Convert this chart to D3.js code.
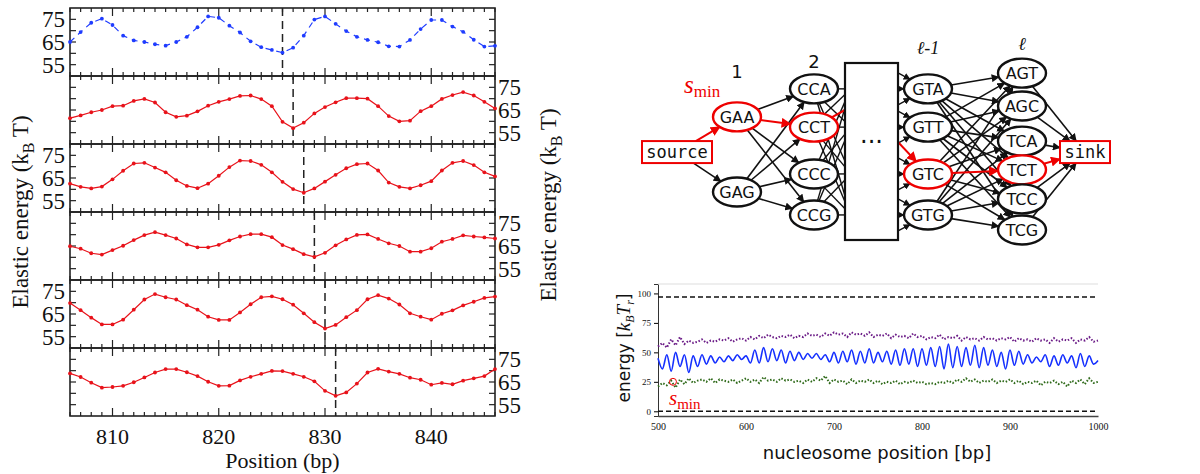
<!DOCTYPE html>
<html><head><meta charset="utf-8">
<script src="https://cdn.jsdelivr.net/npm/d3@7"></script>
<style>body{margin:0;background:#fff}</style>
</head><body>
<svg id="fig" width="1200" height="474"></svg>
<script>
// ---- left panel data: elastic energy per position 806..846
var positions = d3.range(806, 847)
var minPos = [826, 827, 828, 829, 830, 831]
var panel1 = [65,69.4,73.5,75.3,72.5,67.8,65.7,65,64,63.4,65,67.3,71.5,76.3,75.7,72.2,69.2,65.3,62.7,61.5,60.3,62.5,67.8,74.9,76.3,73,69.8,67.3,65.9,64.9,63.1,63,65.9,70.7,74.7,74.7,71.8,69.5,66,63,63.3]
var panel2 = [61.4,62.6,64,65,66.7,66.9,69,69.9,68.3,64,62,62.5,64.4,66.9,68.6,69.8,71.2,71.4,69.8,66.7,59.8,57,59.4,63.5,66.3,68.4,70.2,70.2,70,66.7,62.3,60,60.3,64.5,66.7,69.9,71.6,72.9,71.4,68.6,65.7]
var panel3 = [62.5,61.1,60.4,61.2,64.4,68.2,71.4,71.7,69.6,67.5,64,61.5,60.5,62.5,66,69.8,72.7,72.5,70.8,67.5,63.3,60.1,58.5,60.4,63.4,66.4,69.3,71.1,71.4,68.3,63,61.1,60.4,61.8,63.6,68.3,71.7,72.5,70.7,67.5,65.7]
var panel4 = [64.9,63.8,61.8,61.2,63.2,65.1,67.6,69.8,71.1,69.8,68.3,65.7,64.4,64.4,65.5,67.5,69.2,70.2,70.2,68.9,65.4,63.6,61.4,60.2,62,65.3,67.9,69.9,70.1,68.1,66.2,65,62.5,62.5,64,66.9,68.1,69.7,69.2,68.8,68.3]
var panel5 = [69.8,66.7,63.4,60.4,60.4,62.5,66.9,71.4,73.8,72.4,71.4,68.9,66.9,63.8,62.4,62.4,65.7,69.3,72.4,72.8,71.5,69.1,65.3,61.4,58.6,60.2,63.6,66.7,71.5,73.3,71.8,69.2,65.3,63.8,62.5,65.1,66.6,68.8,70.4,72.1,72.7]
var panel6 = [68.8,67.2,64.7,62.5,62.8,63.3,64.9,67,69.2,70.7,70.7,69.3,67.6,65.1,63.3,63.4,65.7,67.3,68.6,69.9,69.8,68.6,67.3,65.3,61.1,58.9,60.4,64.3,69.2,70.8,69.6,68.6,66.9,66,63.8,64.6,64,65.6,66.6,67.6,70.7]
var panels = [panel1, panel2, panel3, panel4, panel5, panel6]
var energyTicks = [55, 65, 75]
var posTicks = [810, 820, 830, 840]

// ---- bottom right data: energies along nucleosome position 500..1000 (step 5)
var nucPos = d3.range(500, 1001, 5)
var eMean = [45,36,48,34,50,38,48,33,47,38,48,40,47,41,46,42,47,43,48,44,47,41,52,41,54,42,53,43,52,41,51,43,50,44,49,45,49,44,48,42,50,41,51,42,52,40,51,41,53,41,50,42,51,40,52,39,53,40,53,38,53,39,54,38,55,36,57,37,55,38,54,39,56,37,54,39,52,38,50,36,52,39,51,40,48,41,46,42,48,38,47,39,48,41,47,37,49,38,47,40,43]
var eMax = [55,58,54,61,56,63,57,60,58,59,61,58,60,59,61,60,62,59,61,62,60,63,61,64,62,65,63,62,64,63,65,62,64,63,66,64,65,63,66,64,67,65,66,63,67,65,66,64,67,63,65,64,66,62,65,63,64,62,66,63,64,61,63,62,65,61,63,62,64,60,63,61,62,60,63,61,62,60,62,61,63,59,62,60,61,59,62,60,61,58,62,59,61,60,62,58,61,60,63,59,60]
var eMin = [21,24,22,26,20,27,23,28,24,26,27,25,28,24,27,26,25,27,24,26,28,25,27,24,29,26,27,25,28,26,27,25,26,24,27,25,28,26,30,24,27,25,26,23,27,24,26,25,27,24,26,23,25,24,26,23,25,24,26,24,25,23,24,23,25,24,26,24,27,25,28,25,27,24,26,25,27,24,26,25,27,24,26,23,25,24,26,22,25,24,26,23,25,21,26,24,27,23,28,24,25]
var bounds = [0, 97]
var sMin = [517, 25]
var nucTicks = [500, 600, 700, 800, 900, 1000]
var eTicks = [0, 25, 50, 75, 100]

// ---- graph diagram
var layers = ["src", "L1", "L2", "box", "Lm1", "L", "sink"]
var nodes = [
  {id: "source", layer: "src", row: 3.28, red: true, rect: true},
  {id: "GAA", layer: "L1", row: 2.25, red: true},
  {id: "GAG", layer: "L1", row: 4.45},
  {id: "CCA", layer: "L2", row: 1.43}, {id: "CCT", layer: "L2", row: 2.55, red: true},
  {id: "CCC", layer: "L2", row: 3.92}, {id: "CCG", layer: "L2", row: 5.12},
  {id: "GTA", layer: "Lm1", row: 1.43}, {id: "GTT", layer: "Lm1", row: 2.55},
  {id: "GTC", layer: "Lm1", row: 3.92, red: true}, {id: "GTG", layer: "Lm1", row: 5.12},
  {id: "AGT", layer: "L", row: 0.97}, {id: "AGC", layer: "L", row: 1.93},
  {id: "TCA", layer: "L", row: 2.96}, {id: "TCT", layer: "L", row: 3.8, red: true},
  {id: "TCC", layer: "L", row: 4.65}, {id: "TCG", layer: "L", row: 5.56},
  {id: "sink", layer: "sink", row: 3.28, red: true, rect: true}
]
var layerLabels = [["L1", "1", 78], ["L2", "2", 68], ["Lm1", "ℓ-1", 54], ["L", "ℓ", 50]]
var redPath = ["source-GAA", "GAA-CCT", "GTC-TCT", "TCT-sink"]

var svg = d3.select("#fig")
var serif = "Liberation Serif, serif"

// ================= left: stacked panels =================
var x = d3.scaleLinear().domain([806, 846]).range([70, 495])
var panelTop = d3.scaleLinear().domain([0, 6]).range([8, 416])
var ph = panelTop(1) - panelTop(0)

panels.forEach(function(vals, i) {
  var top = panelTop(i)
  var y = d3.scaleLinear().domain([50, 80]).range([top + ph, top])
  var g = svg.append("g")
  var blue = i == 0
  var col = blue ? "#1f3cff" : "#e8121a"

  // ticks
  d3.range(806, 847).forEach(function(p) {
    var len = p % 10 == 0 ? 8 : 4
    g.append("line").attr("x1", x(p)).attr("x2", x(p)).attr("y1", top).attr("y2", top + len).attr("stroke", "#222").attr("stroke-width", 1.2)
    g.append("line").attr("x1", x(p)).attr("x2", x(p)).attr("y1", top + ph).attr("y2", top + ph - len).attr("stroke", "#222").attr("stroke-width", 1.2)
  })
  d3.range(55, 80, 5).forEach(function(v) {
    g.append("line").attr("x1", x(806)).attr("x2", x(806) + 6).attr("y1", y(v)).attr("y2", y(v)).attr("stroke", "#222").attr("stroke-width", 1.2)
    g.append("line").attr("x1", x(846)).attr("x2", x(846) - 6).attr("y1", y(v)).attr("y2", y(v)).attr("stroke", "#222").attr("stroke-width", 1.2)
  })
  g.append("rect").attr("x", x(806)).attr("y", top).attr("width", x(846) - x(806)).attr("height", ph)
    .attr("fill", "none").attr("stroke", "#222").attr("stroke-width", 1.6)

  energyTicks.forEach(function(v) {
    g.append("text").attr("x", i % 2 == 0 ? x(806) - 5 : x(846) + 3).attr("y", y(v) + 8)
      .attr("text-anchor", i % 2 == 0 ? "end" : "start")
      .attr("font-family", serif).attr("font-size", 23).attr("fill", "#111").text(v)
  })

  g.append("line").attr("x1", x(minPos[i])).attr("x2", x(minPos[i])).attr("y1", top).attr("y2", top + ph)
    .attr("stroke", "#222").attr("stroke-width", 1.5).attr("stroke-dasharray", "8,5")

  var line = d3.line().x(function(d, j) { return x(positions[j]) }).y(function(d) { return y(d) })
  g.append("path").attr("d", line(vals)).attr("fill", "none").attr("stroke", col).attr("stroke-width", 1.2)
    .attr("stroke-dasharray", blue ? "6,5" : null)
  g.selectAll("circle").data(vals).enter().append("circle")
    .attr("cx", function(d, j) { return x(positions[j]) }).attr("cy", function(d) { return y(d) })
    .attr("r", 1.9).attr("fill", col)
})

posTicks.forEach(function(p) {
  svg.append("text").attr("x", x(p)).attr("y", 444).attr("text-anchor", "middle")
    .attr("font-family", serif).attr("font-size", 22).attr("fill", "#111").text(p)
})
svg.append("text").attr("x", x(826)).attr("y", 468).attr("text-anchor", "middle")
  .attr("font-family", serif).attr("font-size", 22).attr("fill", "#111").text("Position (bp)")

function yLabel(cx, cy) {
  var t = svg.append("text").attr("transform", "translate(" + cx + "," + cy + ") rotate(-90)")
    .attr("text-anchor", "middle").attr("font-family", serif).attr("font-size", 23).attr("fill", "#111")
  t.append("tspan").text("Elastic energy (k")
  t.append("tspan").attr("font-size", 16).attr("dy", 6).text("B")
  t.append("tspan").attr("dy", -6).text(" T)")
}
yLabel(28, 212)
yLabel(556, 205)

// ================= bottom right: energy along sequence =================
var bx = d3.scaleLinear().domain([500, 1000]).range([658, 1098])
var by = d3.scaleLinear().domain([-4, 108]).range([416, 284])
var bg = svg.append("g")

bg.append("g").attr("transform", "translate(0,416)")
  .call(d3.axisBottom(bx).tickValues(nucTicks).tickFormat(d3.format("d")).tickSize(0).tickPadding(7))
  .call(function(a) { a.select(".domain").attr("stroke-width", 1.6).attr("stroke", "#444") })
  .selectAll("text").attr("font-family", serif).attr("font-size", 10).attr("fill", "#111")
bg.append("g").attr("transform", "translate(658,0)")
  .call(d3.axisLeft(by).tickValues(eTicks).tickSize(4).tickPadding(3))
  .call(function(a) { a.select(".domain").attr("stroke", "#333") })
  .selectAll("text").attr("font-family", serif).attr("font-size", 9).attr("fill", "#111")
bg.append("line").attr("x1", 658).attr("x2", 1098).attr("y1", 284).attr("y2", 284).attr("stroke", "#ddd")

bounds.forEach(function(b) {
  bg.append("line").attr("x1", bx(500)).attr("x2", bx(1000)).attr("y1", by(b)).attr("y2", by(b))
    .attr("stroke", "#111").attr("stroke-width", 1.6).attr("stroke-dasharray", "5,3")
})

var bline = function(vals, curve) {
  return d3.line().curve(curve).x(function(d, j) { return bx(nucPos[j]) }).y(function(d) { return by(d) })(vals)
}
bg.append("path").attr("d", bline(eMax, d3.curveLinear)).attr("fill", "none").attr("stroke", "#6a1a86").attr("stroke-width", 2).attr("stroke-dasharray", "1.5,1.8")
bg.append("path").attr("d", bline(eMin, d3.curveLinear)).attr("fill", "none").attr("stroke", "#2f6a1a").attr("stroke-width", 2).attr("stroke-dasharray", "1.5,1.8")
bg.append("path").attr("d", bline(eMean, d3.curveCatmullRom)).attr("fill", "none").attr("stroke", "#1530ff").attr("stroke-width", 1.6)

bg.append("circle").attr("cx", bx(sMin[0])).attr("cy", by(sMin[1])).attr("r", 3.5).attr("fill", "none").attr("stroke", "#e00").attr("stroke-width", 1)
var st = bg.append("text").attr("x", bx(sMin[0]) - 4).attr("y", by(sMin[1]) + 23).attr("font-family", serif).attr("fill", "#e00").attr("font-size", 21)
st.append("tspan").attr("font-style", "italic").text("s")
st.append("tspan").attr("font-size", 15).attr("dy", 4).text("min")

bg.append("text").attr("x", 877).attr("y", 459).attr("text-anchor", "middle")
  .attr("font-family", "DejaVu Sans, sans-serif").attr("font-size", 18).attr("fill", "#111").text("nucleosome position [bp]")
var yl = bg.append("text").attr("transform", "translate(630,348) rotate(-90)").attr("text-anchor", "middle")
  .attr("font-family", "DejaVu Sans, sans-serif").attr("font-size", 17).attr("fill", "#111")
yl.append("tspan").text("energy [")
yl.append("tspan").attr("font-family", serif).attr("font-style", "italic").attr("font-size", 19).text("k")
yl.append("tspan").attr("font-family", serif).attr("font-style", "italic").attr("font-size", 12).attr("dy", 4).text("B")
yl.append("tspan").attr("font-family", serif).attr("font-style", "italic").attr("font-size", 19).attr("dy", -4).text("T")
yl.append("tspan").attr("font-family", serif).attr("font-style", "italic").attr("font-size", 12).attr("dy", 4).text("r")
yl.append("tspan").attr("dy", -4).text("]")

// ================= top right: graph of codons =================
var gx = d3.scaleOrdinal().domain(layers).range([677, 737, 814, 871, 928, 1022, 1085])
var gy = d3.scaleLinear().domain([0, 6]).range([40, 245])
var RX = 24, RY = 14.5
var byId = {}
nodes.forEach(function(n) {
  n.x = gx(n.layer); n.y = gy(n.row)
  n.hw = n.rect ? (n.id == "source" ? 35 : 25) : RX
  n.hh = n.rect ? 11 : RY
  byId[n.id] = n
})
var boxTop = 63, boxBot = 240, boxL = 845, boxR = 898

function edgePt(n, dx, dy) {
  if (n.rect) {
    var s = Math.min(n.hw / Math.abs(dx || 1e-9), n.hh / Math.abs(dy || 1e-9))
    return [n.x + dx * s, n.y + dy * s]
  }
  var s2 = 1 / Math.sqrt((dx * dx) / (n.hw * n.hw) + (dy * dy) / (n.hh * n.hh))
  return [n.x + dx * s2, n.y + dy * s2]
}

var defs = svg.append("defs")
;[["ak", "#111"], ["ar", "#e00"]].forEach(function(m) {
  defs.append("marker").attr("id", m[0]).attr("viewBox", "0 0 10 10").attr("refX", 9).attr("refY", 5)
    .attr("markerWidth", 5).attr("markerHeight", 5).attr("orient", "auto")
    .append("path").attr("d", "M0,0L10,5L0,10z").attr("fill", m[1])
})

var edges = []
function link(a, b) { edges.push([a, b]) }
link("source", "GAA"); link("source", "GAG")
;["GAA", "GAG"].forEach(function(a) { ["CCA", "CCT", "CCC", "CCG"].forEach(function(b) { link(a, b) }) })
;["GTA", "GTT", "GTC", "GTG"].forEach(function(a) { ["AGT", "AGC", "TCA", "TCT", "TCC", "TCG"].forEach(function(b) { link(a, b) }) })
;["AGT", "AGC", "TCA", "TCT", "TCC", "TCG"].forEach(function(a) { link(a, "sink") })

var eg = svg.append("g")
edges.forEach(function(e) {
  var a = byId[e[0]], b = byId[e[1]]
  var dx = b.x - a.x, dy = b.y - a.y
  var p1 = edgePt(a, dx, dy), p2 = edgePt(b, -dx, -dy)
  var red = redPath.indexOf(e[0] + "-" + e[1]) >= 0
  eg.append("line").attr("x1", p1[0]).attr("y1", p1[1]).attr("x2", p2[0]).attr("y2", p2[1])
    .attr("stroke", red ? "#e00" : "#111").attr("stroke-width", red ? 2 : 1.6)
    .attr("marker-end", red ? "url(#ar)" : "url(#ak)")
    .attr("data-red", red ? 1 : 0)
})
eg.selectAll("line").filter(function() { return this.getAttribute("data-red") == "1" }).raise()

// layer 2 -> box (crossing lines), box -> layer l-1
var l2 = ["CCA", "CCT", "CCC", "CCG"], lm = ["GTA", "GTT", "GTC", "GTG"]
l2.forEach(function(a) {
  l2.forEach(function(b) {
    var n = byId[a], t = byId[b]
    var p = edgePt(n, boxL - n.x, t.y - n.y)
    eg.append("line").attr("x1", p[0]).attr("y1", p[1]).attr("x2", boxL).attr("y2", t.y + (n.y - t.y) * 0.15)
      .attr("stroke", "#111").attr("stroke-width", 1.4)
  })
})
var cct = byId["CCT"], pr = edgePt(cct, boxL - cct.x, 110 - cct.y)
eg.append("line").attr("x1", pr[0]).attr("y1", pr[1]).attr("x2", boxL).attr("y2", 110).attr("stroke", "#e00").attr("stroke-width", 2)
lm.forEach(function(b) {
  var t = byId[b]
  ;[-16, 0, 16].forEach(function(off) {
    var sy = t.y + off
    if (sy < boxTop + 4 || sy > boxBot - 4) return
    var p = edgePt(t, boxR - t.x, sy - t.y)
    eg.append("line").attr("x1", boxR).attr("y1", sy).attr("x2", p[0]).attr("y2", p[1])
      .attr("stroke", "#111").attr("stroke-width", 1.4).attr("marker-end", "url(#ak)")
  })
})
var gtc = byId["GTC"], pg = edgePt(gtc, boxR - gtc.x, 142 - gtc.y)
eg.append("line").attr("x1", boxR).attr("y1", 142).attr("x2", pg[0]).attr("y2", pg[1]).attr("stroke", "#e00").attr("stroke-width", 2).attr("marker-end", "url(#ar)")

svg.append("rect").attr("x", boxL).attr("y", boxTop).attr("width", boxR - boxL).attr("height", boxBot - boxTop)
  .attr("fill", "#fff").attr("stroke", "#111").attr("stroke-width", 2.2)
svg.append("text").attr("x", (boxL + boxR) / 2).attr("y", 150).attr("text-anchor", "middle")
  .attr("font-family", "DejaVu Sans, sans-serif").attr("font-size", 24).attr("fill", "#111").text("···")

var ng = svg.selectAll("g.node").data(nodes).enter().append("g").attr("class", "node")
ng.each(function(n) {
  var g = d3.select(this)
  if (n.rect) {
    g.append("rect").attr("x", n.x - n.hw).attr("y", n.y - n.hh).attr("width", n.hw * 2).attr("height", n.hh * 2)
      .attr("fill", "#fff").attr("stroke", "#e00").attr("stroke-width", 2)
    g.append("text").attr("x", n.x).attr("y", n.y + 6).attr("text-anchor", "middle")
      .attr("font-family", "DejaVu Sans Mono, monospace").attr("font-size", 17).attr("fill", "#111").text(n.id)
  } else {
    g.append("ellipse").attr("cx", n.x).attr("cy", n.y).attr("rx", RX).attr("ry", RY)
      .attr("fill", "#fff").attr("stroke", n.red ? "#e00" : "#111").attr("stroke-width", 2.4)
    g.append("text").attr("x", n.x).attr("y", n.y + 6).attr("text-anchor", "middle")
      .attr("font-family", "DejaVu Sans, sans-serif").attr("font-size", 16).attr("fill", "#111").text(n.id)
  }
})

layerLabels.forEach(function(l) {
  svg.append("text").attr("x", gx(l[0])).attr("y", l[2])
    .attr("text-anchor", "middle").attr("font-family", l[0] == "L1" || l[0] == "L2" ? "DejaVu Sans, sans-serif" : serif)
    .attr("font-size", 18).attr("font-style", l[0] == "L1" || l[0] == "L2" ? "normal" : "italic").attr("fill", "#111").text(l[1])
})
var sm = svg.append("text").attr("x", 684).attr("y", 93).attr("font-family", serif).attr("fill", "#e00").attr("font-size", 25)
sm.append("tspan").attr("font-style", "italic").text("s")
sm.append("tspan").attr("font-size", 17).attr("dy", 4).text("min")
</script>
</body></html>
